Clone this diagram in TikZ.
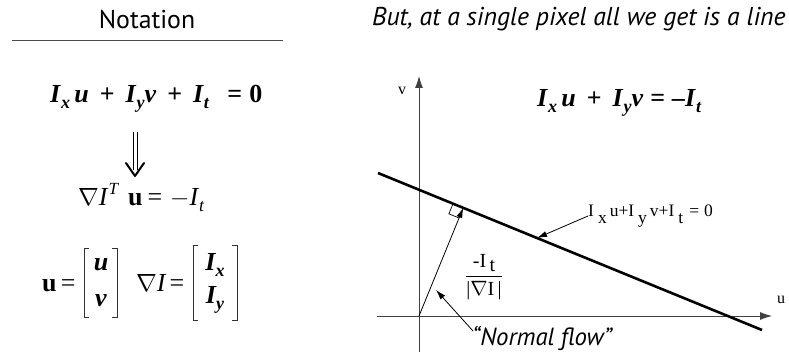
\documentclass[tikz,border=0pt]{standalone}
\usepackage{fontspec}
\setmainfont{Liberation Serif}
\newfontfamily\hsans{PT Sans}
\usetikzlibrary{arrows.meta,calc}
\newcommand{\sbx}[1]{\raisebox{-0.22em}{\fontsize{18}{18}\selectfont #1}}
\newcommand{\lowsb}[1]{\hspace{4pt}\raisebox{-7pt}{#1}\hspace{3pt}}
\begin{document}
\begin{tikzpicture}[x=1pt,y=-1pt,
  hdr/.style={font=\hsans\fontsize{25.8}{28}\selectfont, inner sep=0pt},
  bigeq/.style={font=\fontsize{26}{30}\selectfont, inner sep=0pt},
  small/.style={font=\fontsize{17.5}{19}\selectfont, inner sep=0pt},
  axis/.style={line width=0.9pt, draw=black!75, -{Latex[length=12pt,width=8pt]}},
  lbl/.style={line width=0.8pt, -{Latex[length=10pt,width=6pt]}},
  brk/.style={line width=0.8pt, draw=black!80}]
\useasboundingbox (0,0) rectangle (789,352);
% ---------- left ----------
\node[hdr] (hL) at (147,19) {Notation};
\coordinate (r1) at (12,40); \coordinate (r2) at (283,40);
\draw[line width=0.9pt, black!70] (r1) -- (r2);
\node[bigeq, anchor=base west] (eq1) at (50,103)
  {\bfseries\textit{I}\sbx{\textit{x}}\,\textit{u}\hspace{11pt}+\hspace{11pt}\textit{I}\sbx{\textit{y}}\textit{v}\hspace{11pt}+\hspace{11pt}\textit{I}\sbx{\textit{t}}\hspace{18pt}=\hspace{7pt}0};
% double arrow
\coordinate (a1) at (133,132); \coordinate (a2) at (133,170);
\coordinate (a3) at (137,132); \coordinate (a4) at (137,170);
\coordinate (h1) at (126,163); \coordinate (h2) at (135,176); \coordinate (h3) at (144,163);
\draw[line width=0.9pt] (a1) -- (a2);
\draw[line width=0.9pt] (a3) -- (a4);
\draw[line width=2pt, line join=round, line cap=round] (h1) -- (h2) -- (h3);
\node[bigeq, anchor=base west] (eq2) at (78,206)
  {$\nabla$\textit{I}\raisebox{0.45em}{\fontsize{17}{17}\selectfont\textit{T}}\hspace{9pt}\textbf{u}\hspace{5pt}=\hspace{8pt}$-$\textit{I}\sbx{\textit{t}}};
% matrices
\node[bigeq, anchor=base west] (ubold) at (42,291) {\textbf{u}\,=};
\coordinate (b1a) at (89,248); \coordinate (b1b) at (84,248); \coordinate (b1c) at (84,317); \coordinate (b1d) at (89,317);
\draw[brk] (b1a) -- (b1b) -- (b1c) -- (b1d);
\coordinate (b2a) at (112,248); \coordinate (b2b) at (117,248); \coordinate (b2c) at (117,317); \coordinate (b2d) at (112,317);
\draw[brk] (b2a) -- (b2b) -- (b2c) -- (b2d);
\node[bigeq] (mu) at (101,265) {\bfseries\itshape u};
\node[bigeq] (mv) at (101,301) {\bfseries\itshape v};
\node[bigeq, anchor=base west] (gI) at (136,291) {$\nabla$\textit{I}\hspace{3pt}=};
\coordinate (b3a) at (198,245); \coordinate (b3b) at (193,245); \coordinate (b3c) at (193,320); \coordinate (b3d) at (198,320);
\draw[brk] (b3a) -- (b3b) -- (b3c) -- (b3d);
\coordinate (b4a) at (232,245); \coordinate (b4b) at (237,245); \coordinate (b4c) at (237,320); \coordinate (b4d) at (232,320);
\draw[brk] (b4a) -- (b4b) -- (b4c) -- (b4d);
\node[bigeq] (mIx) at (215,265) {\bfseries\itshape I\sbx{x}};
\node[bigeq] (mIy) at (215,300) {\bfseries\itshape I\sbx{y}};
% ---------- right ----------
\node[hdr, anchor=west] (hR) at (372,19) {\itshape But, at a single pixel all we get is a line};
\node[bigeq, anchor=base west] (eq3) at (537,107)
  {\bfseries\textit{I}\sbx{\textit{x}}\,\textit{u}\hspace{11pt}+\hspace{11pt}\textit{I}\sbx{\textit{y}}\textit{v}\hspace{7pt}=\hspace{7pt}\textit{--I}\sbx{\textit{t}}};
\coordinate (O) at (419,316);
\coordinate (vtop) at (419,76); \coordinate (vbot) at (419,352);
\coordinate (uleft) at (377,316); \coordinate (uright) at (772,316);
\draw[line width=0.9pt, draw=black!75] (vbot) -- (O);
\draw[axis] (O) -- (vtop);
\draw[line width=0.9pt, draw=black!75] (uleft) -- (O);
\draw[axis] (O) -- (uright);
\node[inner sep=0pt, font=\fontsize{16}{17}\selectfont] (vl) at (402,91) {v};
\node[inner sep=0pt, font=\fontsize{16}{17}\selectfont] (ul) at (781,300) {u};
\coordinate (L1) at (378,173); \coordinate (L2) at (762,330);
\draw[line width=2.6pt] (L1) -- (L2);
\coordinate (F) at ($(L1)!(O)!(L2)$);
\draw[line width=0.8pt, -{Latex[length=10pt,width=6pt]}] (O) -- (F);
\coordinate (s1) at ($(F)!11pt!(L1)$);
\coordinate (s2) at ($(F)!11pt!(O)$);
\coordinate (s3) at ($(s1)+(s2)-(F)$);
\draw[line width=0.7pt] (s1) -- (s3) -- (s2);
\node[small, anchor=west] (eqlab) at (588,216)
  {I\lowsb{x}u+I\lowsb{y}v+I\lowsb{t}\hspace{3pt}=\hspace{5pt}0};
\coordinate (P) at (537,238);
\draw[lbl] (eqlab.west) -- (P);
\node[inner sep=0pt, font=\fontsize{20}{22}\selectfont] (frac) at (484,277)
  {$\displaystyle\frac{\mbox{-I\,\raisebox{-4pt}{t}}}{\mbox{|}\nabla\mbox{I\,|}}$};
\node[inner sep=0pt, anchor=west, font=\hsans\itshape\fontsize{24.8}{27}\selectfont] (nf) at (472,338) {“Normal flow”};
\coordinate (nfa) at (473,331);
\coordinate (nfb) at (436,290);
\draw[lbl] (nfa) -- (nfb);
\end{tikzpicture}
\end{document}
